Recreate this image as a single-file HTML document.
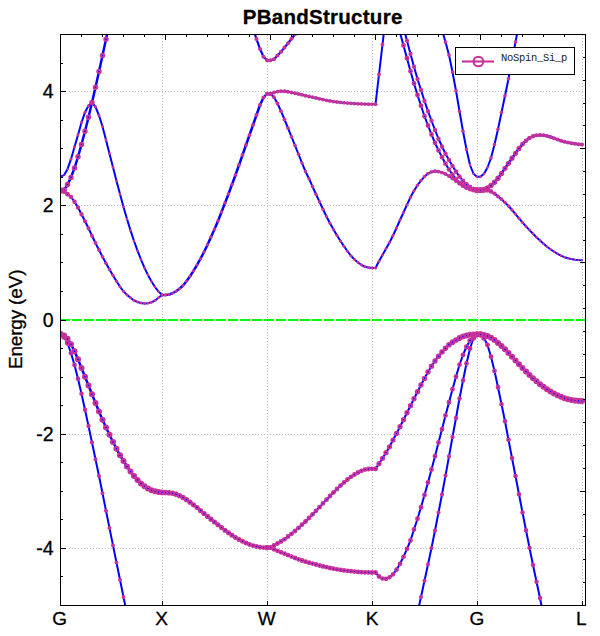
<!DOCTYPE html>
<html><head><meta charset="utf-8"><title>PBandStructure</title>
<style>
html,body{margin:0;padding:0;background:#fff;}
body{width:600px;height:636px;overflow:hidden;font-family:"Liberation Sans",sans-serif;}
svg{display:block;}
text{font-family:"Liberation Sans",sans-serif;fill:#000;stroke:#000;stroke-width:0.3px;}
</style></head><body>
<svg width="600" height="636" viewBox="0 0 600 636">
<rect width="600" height="636" fill="#fff"/>
<defs><clipPath id="cp"><rect x="60.5" y="34.5" width="525.0" height="571.0"/></clipPath></defs>
<g stroke="#bdbdbd" stroke-width="1" stroke-dasharray="1 2" shape-rendering="crispEdges" fill="none">
<line x1="162.5" y1="35" x2="162.5" y2="601"/>
<line x1="267.5" y1="35" x2="267.5" y2="601"/>
<line x1="372.5" y1="35" x2="372.5" y2="601"/>
<line x1="477.5" y1="35" x2="477.5" y2="601"/>
<line x1="582.5" y1="35" x2="582.5" y2="601"/>
<line x1="69" y1="91.5" x2="583" y2="91.5"/>
<line x1="69" y1="205.5" x2="583" y2="205.5"/>
<line x1="69" y1="434.5" x2="583" y2="434.5"/>
<line x1="69" y1="548.5" x2="583" y2="548.5"/>
</g>
<line x1="60" y1="320" x2="585.5" y2="320" stroke="#00ff00" stroke-width="2" stroke-dasharray="10 2"/>
<g clip-path="url(#cp)">
<g fill="none" stroke="#0000ff" stroke-width="2.0" stroke-linejoin="round" stroke-linecap="round">
<polyline points="60.50,190.50 64.00,191.30 67.50,194.25 71.00,197.00 74.50,201.75 78.00,207.50 81.50,214.25 85.00,221.25 88.50,228.25 92.00,235.75 95.50,243.00 99.00,250.00 102.50,256.75 106.00,263.25 109.50,269.50 113.00,275.50 116.50,281.25 120.00,286.75 123.50,291.34 127.00,294.89 130.50,297.75 134.00,300.44 137.50,302.03 141.00,302.98 144.50,303.50 148.00,303.15 151.50,302.29 155.00,300.50 158.50,297.75 162.00,295.00 165.50,295.00"/>
<polyline points="60.50,176.70 64.00,175.20 67.50,169.20 71.00,159.20 74.50,147.00 78.00,135.00 81.50,122.60 85.00,112.20 88.50,105.70 92.00,102.50 95.50,106.90 99.00,115.50 102.50,126.50 106.00,139.90 109.50,153.70 113.00,167.30 116.50,180.90 120.00,194.10 123.50,206.90 127.00,219.00 130.50,230.40 134.00,241.00 137.50,250.70 141.00,259.50 144.50,267.90 148.00,275.10 151.50,281.50 155.00,287.00 158.50,291.60 162.00,294.80 165.50,295.00"/>
<polyline stroke-width="2.5" points="60.50,190.50 64.00,190.00 67.50,184.60 71.00,177.40 74.50,168.00 78.00,156.80 81.50,144.50 85.00,131.30 88.50,117.30 92.00,102.50 95.50,87.25 99.00,71.50 102.50,55.50 106.00,39.25 109.50,23.00"/>
<polyline stroke-width="2.5" points="162.00,295.00 165.50,295.00 169.00,294.49 172.50,293.29 176.00,291.25 179.50,288.72 183.00,285.50 186.50,281.26 190.00,276.25 193.50,270.86 197.00,265.00 200.50,258.73 204.00,252.00 207.50,244.67 211.00,237.00 214.50,229.25 218.00,221.00 221.50,212.00 225.00,203.00 228.50,194.00 232.00,184.50 235.50,175.00 239.00,165.00 242.50,155.00 246.00,145.00 249.50,135.00 253.00,125.00 256.50,115.00 260.00,105.00 263.50,97.50 267.00,93.90 270.50,93.90"/>
<polyline stroke-width="2.2" points="249.50,14.00 253.00,28.50 256.50,39.00 260.00,49.00 263.50,56.80 267.00,60.30 270.50,60.30 274.00,59.20 277.50,55.50 281.00,51.80 284.50,47.60 288.00,43.20 291.50,38.80 295.00,34.30 298.50,29.80"/>
<polyline points="267.00,93.80 270.50,93.80 274.00,92.50 277.50,91.60 281.00,91.25 284.50,91.25 288.00,91.75 291.50,92.50 295.00,93.25 298.50,94.00 302.00,94.75 305.50,95.75 309.00,96.50 312.50,97.20 316.00,97.98 319.50,98.80 323.00,99.59 326.50,100.29 330.00,100.93 333.50,101.51 337.00,102.00 340.50,102.40 344.00,102.75 347.50,103.06 351.00,103.32 354.50,103.57 358.00,103.79 361.50,103.96 365.00,104.09 368.50,104.20 372.00,104.25 375.50,104.25"/>
<polyline points="375.50,104.25 379.00,74.50 382.50,44.50 386.00,14.50"/>
<polyline points="267.00,93.90 270.50,93.90 274.00,97.20 277.50,103.50 281.00,111.20 284.50,119.50 288.00,128.00 291.50,136.75 295.00,145.50 298.50,154.25 302.00,163.00 305.50,171.50 309.00,178.70 312.50,186.50 316.00,194.25 319.50,201.75 323.00,209.25 326.50,216.50 330.00,223.25 333.50,229.50 337.00,235.50 340.50,241.00 344.00,246.25 347.50,251.25 351.00,255.75 354.50,259.50 358.00,262.50 361.50,265.00 365.00,266.75 368.50,267.50 372.00,268.00 375.50,268.00"/>
<polyline points="372.00,268.00 375.50,268.00 379.00,261.25 382.50,255.00 386.00,248.75 389.50,242.50 393.00,235.50 396.50,228.00 400.00,220.00 403.50,212.50 407.00,204.70 410.50,197.30 414.00,190.80 417.50,185.20 421.00,180.60 424.50,176.60 428.00,173.60 431.50,171.80 435.00,171.20 438.50,171.60 442.00,172.60 445.50,174.00 449.00,176.00 452.50,178.40 456.00,181.00 459.50,183.40 463.00,185.60 466.50,187.40 470.00,188.80 473.50,189.80 477.00,190.20 480.50,190.20"/>
<polyline points="396.50,19.50 400.00,32.50 403.50,45.50 407.00,58.25 410.50,71.25 414.00,83.50 417.50,95.00 421.00,105.75 424.50,116.25 428.00,125.50 431.50,134.50 435.00,142.80 438.50,150.40 442.00,157.20 445.50,163.70 449.00,169.50 452.50,174.60 456.00,179.20 459.50,182.80 463.00,185.60 466.50,187.60 470.00,188.90 473.50,189.80 477.00,190.20 480.50,190.20"/>
<polyline points="400.00,14.00 403.50,27.50 407.00,40.75 410.50,54.00 414.00,66.75 417.50,79.00 421.00,90.00 424.50,101.00 428.00,111.25 431.50,120.75 435.00,130.00 438.50,138.75 442.00,146.50 445.50,153.70 449.00,160.00 452.50,166.00 456.00,171.60 459.50,176.60 463.00,181.00 466.50,184.40 470.00,187.20 473.50,189.20 477.00,190.20 480.50,190.20"/>
<polyline points="438.50,14.00 442.00,30.00 445.50,42.00 449.00,55.00 452.50,72.00 456.00,90.75 459.50,111.25 463.00,131.25 466.50,149.50 470.00,165.00 473.50,173.75 477.00,176.75 480.50,176.75 484.00,173.75 487.50,167.50 491.00,158.00 494.50,144.50 498.00,129.25 501.50,112.50 505.00,95.75 508.50,78.75 512.00,60.50 515.50,42.00 519.00,24.00 522.50,6.00"/>
<polyline stroke-width="2.5" points="477.00,190.20 480.50,190.20 484.00,189.60 487.50,188.00 491.00,185.60 494.50,182.30 498.00,178.30 501.50,173.60 505.00,168.30 508.50,163.30 512.00,158.20 515.50,153.20 519.00,148.40 522.50,144.25 526.00,140.75 529.50,138.00 533.00,136.25 536.50,135.25 540.00,135.00 543.50,135.25 547.00,136.00 550.50,137.00 554.00,138.25 557.50,139.50 561.00,140.75 564.50,141.75 568.00,142.50 571.50,143.25 575.00,143.75 578.50,144.25 582.00,144.50"/>
<polyline points="477.00,190.20 480.50,190.20 484.00,190.20 487.50,190.30 491.00,191.40 494.50,193.60 498.00,196.40 501.50,199.20 505.00,202.60 508.50,206.00 512.00,210.00 515.50,214.10 519.00,218.40 522.50,222.50 526.00,226.40 529.50,230.10 533.00,233.80 536.50,237.30 540.00,240.60 543.50,243.70 547.00,246.70 550.50,249.30 554.00,251.70 557.50,253.80 561.00,255.60 564.50,257.20 568.00,258.30 571.50,259.10 575.00,259.70 578.50,260.10 582.00,260.20"/>
<polyline stroke-width="2.5" points="60.50,334.00 64.00,335.50 67.50,338.75 71.00,344.25 74.50,351.25 78.00,359.25 81.50,368.00 85.00,376.75 88.50,385.50 92.00,394.25 95.50,403.00 99.00,411.50 102.50,419.75 106.00,427.50 109.50,434.75 113.00,442.00 116.50,448.75 120.00,455.25 123.50,461.00 127.00,466.50 130.50,471.50 134.00,476.00 137.50,480.00 141.00,483.50 144.50,486.25 148.00,488.50 151.50,490.30 155.00,491.30 158.50,492.00 162.00,492.40 165.50,492.50 169.00,492.70 172.50,493.30 176.00,494.30 179.50,495.70 183.00,497.50 186.50,499.70 190.00,502.20 193.50,504.80 197.00,507.50 200.50,510.50 204.00,513.50 207.50,516.40 211.00,519.20 214.50,522.00 218.00,524.80 221.50,527.50 225.00,530.20 228.50,532.80 232.00,535.20 235.50,537.50 239.00,539.50 242.50,541.30 246.00,543.00 249.50,544.50 253.00,545.60 256.50,546.50 260.00,547.20 263.50,547.60 267.00,547.60 270.50,547.60"/>
<polyline points="60.50,334.00 64.00,337.00 67.50,343.00 71.00,353.00 74.50,365.00 78.00,378.75 81.50,393.75 85.00,409.75 88.50,426.00 92.00,442.50 95.50,459.25 99.00,476.00 102.50,493.30 106.00,510.70 109.50,528.10 113.00,545.40 116.50,562.60 120.00,579.80 123.50,597.00 127.00,614.20"/>
<polyline points="267.00,547.60 270.50,547.60 274.00,545.50 277.50,543.50 281.00,541.50 284.50,539.30 288.00,536.50 291.50,533.80 295.00,531.00 298.50,527.90 302.00,524.70 305.50,521.50 309.00,518.00 312.50,514.40 316.00,510.80 319.50,507.20 323.00,503.30 326.50,499.70 330.00,496.00 333.50,492.40 337.00,489.00 340.50,485.60 344.00,482.40 347.50,479.50 351.00,476.80 354.50,474.50 358.00,472.50 361.50,470.80 365.00,469.60 368.50,469.00 372.00,468.80 375.50,468.80 379.00,463.70 382.50,458.30 386.00,452.70 389.50,446.80 393.00,440.00 396.50,433.50 400.00,426.75 403.50,419.75 407.00,412.75 410.50,405.75 414.00,398.75 417.50,391.75 421.00,385.00 424.50,378.40 428.00,372.00 431.50,366.20 435.00,361.00 438.50,356.30 442.00,352.00 445.50,348.20 449.00,344.80 452.50,342.20 456.00,340.00 459.50,338.00 463.00,336.50 466.50,335.50 470.00,334.80 473.50,334.50 477.00,334.30 480.50,334.30 484.00,335.00 487.50,336.00 491.00,337.70 494.50,340.00 498.00,343.00 501.50,346.00 505.00,349.30 508.50,353.00 512.00,356.80 515.50,360.50 519.00,364.20 522.50,368.00 526.00,371.50 529.50,375.00 533.00,378.20 536.50,381.20 540.00,384.20 543.50,386.80 547.00,389.30 550.50,391.50 554.00,393.50 557.50,395.20 561.00,396.80 564.50,398.20 568.00,399.20 571.50,400.00 575.00,400.60 578.50,400.90 582.00,401.00"/>
<polyline points="267.00,547.60 270.50,547.60 274.00,549.30 277.50,550.80 281.00,552.30 284.50,553.70 288.00,555.20 291.50,556.60 295.00,558.00 298.50,559.30 302.00,560.50 305.50,561.70 309.00,562.70 312.50,563.60 316.00,564.50 319.50,565.50 323.00,566.40 326.50,567.20 330.00,568.00 333.50,568.70 337.00,569.30 340.50,569.90 344.00,570.40 347.50,570.80 351.00,571.20 354.50,571.60 358.00,571.90 361.50,572.10 365.00,572.30 368.50,572.40 372.00,572.50 375.50,572.50 379.00,576.50 382.50,578.50 386.00,578.80 389.50,577.30 393.00,574.30 396.50,569.70 400.00,563.80 403.50,556.80 407.00,548.80 410.50,540.50 414.00,529.50 417.50,518.75 421.00,507.25 424.50,495.00 428.00,482.50 431.50,469.50 435.00,456.25 438.50,442.50 442.00,429.25 445.50,415.50 449.00,402.25 452.50,389.25 456.00,376.75 459.50,364.75 463.00,355.00 466.50,346.75 470.00,340.50 473.50,336.00 477.00,334.50 480.50,334.50"/>
<polyline points="414.00,630.00 417.50,613.00 421.00,597.00 424.50,580.75 428.00,564.50 431.50,548.00 435.00,530.50 438.50,512.50 442.00,494.50 445.50,475.60 449.00,456.40 452.50,437.00 456.00,418.00 459.50,398.50 463.00,380.50 466.50,363.50 470.00,348.50 473.50,338.00 477.00,334.50 480.50,334.50"/>
<polyline points="477.00,334.50 480.50,334.50 484.00,338.00 487.50,345.00 491.00,356.75 494.50,371.00 498.00,387.25 501.50,404.25 505.00,421.25 508.50,439.75 512.00,458.00 515.50,476.00 519.00,494.25 522.50,512.50 526.00,530.29 529.50,547.79 533.00,565.00 536.50,581.75 540.00,598.00 543.50,616.00"/>
</g>
<g fill="none" stroke="#C8329A" stroke-width="2.1">
<circle cx="60.50" cy="190.50" r="1.88" stroke-width="2.15"/>
<circle cx="64.00" cy="191.30" r="1.65" stroke-width="1.90"/>
<circle cx="67.50" cy="194.25" r="1.50" stroke-width="1.90"/>
<circle cx="71.00" cy="197.00" r="1.35" stroke-width="1.90"/>
<circle cx="74.50" cy="201.75" r="1.31" stroke-width="1.90"/>
<circle cx="78.00" cy="207.50" r="1.26" stroke-width="1.90"/>
<circle cx="81.50" cy="214.25" r="1.22" stroke-width="1.90"/>
<circle cx="85.00" cy="221.25" r="1.17" stroke-width="1.90"/>
<circle cx="88.50" cy="228.25" r="1.11" stroke-width="1.90"/>
<circle cx="92.00" cy="235.75" r="1.06" stroke-width="1.90"/>
<circle cx="95.50" cy="243.00" r="1.95" fill="#C8329A" stroke="none"/>
<circle cx="99.00" cy="250.00" r="1.89" fill="#C8329A" stroke="none"/>
<circle cx="102.50" cy="256.75" r="1.83" fill="#C8329A" stroke="none"/>
<circle cx="106.00" cy="263.25" r="1.77" fill="#C8329A" stroke="none"/>
<circle cx="109.50" cy="269.50" r="1.72" fill="#C8329A" stroke="none"/>
<circle cx="113.00" cy="275.50" r="1.66" fill="#C8329A" stroke="none"/>
<circle cx="116.50" cy="281.25" r="1.61" fill="#C8329A" stroke="none"/>
<circle cx="120.00" cy="286.75" r="1.55" fill="#C8329A" stroke="none"/>
<circle cx="123.50" cy="291.34" r="1.50" fill="#C8329A" stroke="none"/>
<circle cx="127.00" cy="294.89" r="1.47" fill="#C8329A" stroke="none"/>
<circle cx="130.50" cy="297.75" r="1.45" fill="#C8329A" stroke="none"/>
<circle cx="134.00" cy="300.44" r="1.44" fill="#C8329A" stroke="none"/>
<circle cx="137.50" cy="302.03" r="1.42" fill="#C8329A" stroke="none"/>
<circle cx="141.00" cy="302.98" r="1.41" fill="#C8329A" stroke="none"/>
<circle cx="144.50" cy="303.50" r="1.39" fill="#C8329A" stroke="none"/>
<circle cx="148.00" cy="303.15" r="1.37" fill="#C8329A" stroke="none"/>
<circle cx="151.50" cy="302.29" r="1.36" fill="#C8329A" stroke="none"/>
<circle cx="155.00" cy="300.50" r="1.34" fill="#C8329A" stroke="none"/>
<circle cx="158.50" cy="297.75" r="1.33" fill="#C8329A" stroke="none"/>
<circle cx="162.00" cy="295.00" r="1.31" fill="#C8329A" stroke="none"/>
<circle cx="165.50" cy="295.00" r="1.30" fill="#C8329A" stroke="none"/>
<circle cx="60.50" cy="176.70" r="0.71" fill="#C8329A" stroke="none"/>
<circle cx="64.00" cy="175.20" r="0.83" fill="#C8329A" stroke="none"/>
<circle cx="67.50" cy="169.20" r="0.94" fill="#C8329A" stroke="none"/>
<circle cx="71.00" cy="159.20" r="1.42" fill="#C8329A" stroke="none"/>
<circle cx="74.50" cy="147.00" r="1.44" fill="#C8329A" stroke="none"/>
<circle cx="78.00" cy="135.00" r="1.46" fill="#C8329A" stroke="none"/>
<circle cx="81.50" cy="122.60" r="1.49" fill="#C8329A" stroke="none"/>
<circle cx="85.00" cy="112.20" r="1.51" fill="#C8329A" stroke="none"/>
<circle cx="88.50" cy="105.70" r="1.57" fill="#C8329A" stroke="none"/>
<circle cx="92.00" cy="102.50" r="1.76" fill="#C8329A" stroke="none"/>
<circle cx="95.50" cy="106.90" r="1.53" fill="#C8329A" stroke="none"/>
<circle cx="99.00" cy="115.50" r="1.49" fill="#C8329A" stroke="none"/>
<circle cx="102.50" cy="126.50" r="1.45" fill="#C8329A" stroke="none"/>
<circle cx="106.00" cy="139.90" r="1.41" fill="#C8329A" stroke="none"/>
<circle cx="109.50" cy="153.70" r="1.36" fill="#C8329A" stroke="none"/>
<circle cx="113.00" cy="167.30" r="1.35" fill="#C8329A" stroke="none"/>
<circle cx="116.50" cy="180.90" r="1.34" fill="#C8329A" stroke="none"/>
<circle cx="120.00" cy="194.10" r="1.33" fill="#C8329A" stroke="none"/>
<circle cx="123.50" cy="206.90" r="1.31" fill="#C8329A" stroke="none"/>
<circle cx="127.00" cy="219.00" r="1.30" fill="#C8329A" stroke="none"/>
<circle cx="130.50" cy="230.40" r="1.29" fill="#C8329A" stroke="none"/>
<circle cx="134.00" cy="241.00" r="1.28" fill="#C8329A" stroke="none"/>
<circle cx="137.50" cy="250.70" r="1.27" fill="#C8329A" stroke="none"/>
<circle cx="141.00" cy="259.50" r="1.26" fill="#C8329A" stroke="none"/>
<circle cx="144.50" cy="267.90" r="1.25" fill="#C8329A" stroke="none"/>
<circle cx="148.00" cy="275.10" r="1.24" fill="#C8329A" stroke="none"/>
<circle cx="151.50" cy="281.50" r="1.22" fill="#C8329A" stroke="none"/>
<circle cx="155.00" cy="287.00" r="1.21" fill="#C8329A" stroke="none"/>
<circle cx="158.50" cy="291.60" r="1.20" fill="#C8329A" stroke="none"/>
<circle cx="162.00" cy="294.80" r="1.19" fill="#C8329A" stroke="none"/>
<circle cx="165.50" cy="295.00" r="1.18" fill="#C8329A" stroke="none"/>
<circle cx="60.50" cy="190.50" r="1.88" stroke-width="2.15"/>
<circle cx="64.00" cy="190.00" r="1.83" stroke-width="2.06"/>
<circle cx="67.50" cy="184.60" r="1.79" stroke-width="1.98"/>
<circle cx="71.00" cy="177.40" r="1.76" stroke-width="1.91"/>
<circle cx="74.50" cy="168.00" r="1.76" stroke-width="1.91"/>
<circle cx="78.00" cy="156.80" r="1.76" stroke-width="1.91"/>
<circle cx="81.50" cy="144.50" r="1.76" stroke-width="1.91"/>
<circle cx="85.00" cy="131.30" r="1.76" stroke-width="1.91"/>
<circle cx="88.50" cy="117.30" r="1.76" stroke-width="1.91"/>
<circle cx="92.00" cy="102.50" r="1.76" stroke-width="1.91"/>
<circle cx="95.50" cy="87.25" r="1.76" stroke-width="1.91"/>
<circle cx="99.00" cy="71.50" r="1.76" stroke-width="1.91"/>
<circle cx="102.50" cy="55.50" r="1.76" stroke-width="1.91"/>
<circle cx="106.00" cy="39.25" r="1.76" stroke-width="1.91"/>
<circle cx="109.50" cy="23.00" r="1.76" stroke-width="1.91"/>
<circle cx="162.00" cy="295.00" r="1.36" fill="#C8329A" stroke="none"/>
<circle cx="165.50" cy="295.00" r="1.38" fill="#C8329A" stroke="none"/>
<circle cx="169.00" cy="294.49" r="1.40" fill="#C8329A" stroke="none"/>
<circle cx="172.50" cy="293.29" r="1.42" fill="#C8329A" stroke="none"/>
<circle cx="176.00" cy="291.25" r="1.44" fill="#C8329A" stroke="none"/>
<circle cx="179.50" cy="288.72" r="1.47" fill="#C8329A" stroke="none"/>
<circle cx="183.00" cy="285.50" r="1.49" fill="#C8329A" stroke="none"/>
<circle cx="186.50" cy="281.26" r="1.51" fill="#C8329A" stroke="none"/>
<circle cx="190.00" cy="276.25" r="1.53" fill="#C8329A" stroke="none"/>
<circle cx="193.50" cy="270.86" r="1.55" fill="#C8329A" stroke="none"/>
<circle cx="197.00" cy="265.00" r="1.57" fill="#C8329A" stroke="none"/>
<circle cx="200.50" cy="258.73" r="1.60" fill="#C8329A" stroke="none"/>
<circle cx="204.00" cy="252.00" r="1.62" fill="#C8329A" stroke="none"/>
<circle cx="207.50" cy="244.67" r="1.65" fill="#C8329A" stroke="none"/>
<circle cx="211.00" cy="237.00" r="1.67" fill="#C8329A" stroke="none"/>
<circle cx="214.50" cy="229.25" r="1.70" fill="#C8329A" stroke="none"/>
<circle cx="218.00" cy="221.00" r="1.73" fill="#C8329A" stroke="none"/>
<circle cx="221.50" cy="212.00" r="1.75" fill="#C8329A" stroke="none"/>
<circle cx="225.00" cy="203.00" r="1.78" fill="#C8329A" stroke="none"/>
<circle cx="228.50" cy="194.00" r="1.80" fill="#C8329A" stroke="none"/>
<circle cx="232.00" cy="184.50" r="1.83" fill="#C8329A" stroke="none"/>
<circle cx="235.50" cy="175.00" r="1.85" fill="#C8329A" stroke="none"/>
<circle cx="239.00" cy="165.00" r="1.88" fill="#C8329A" stroke="none"/>
<circle cx="242.50" cy="155.00" r="1.91" fill="#C8329A" stroke="none"/>
<circle cx="246.00" cy="145.00" r="1.93" fill="#C8329A" stroke="none"/>
<circle cx="249.50" cy="135.00" r="1.01" stroke-width="1.90"/>
<circle cx="253.00" cy="125.00" r="1.04" stroke-width="1.90"/>
<circle cx="256.50" cy="115.00" r="1.07" stroke-width="1.90"/>
<circle cx="260.00" cy="105.00" r="1.09" stroke-width="1.90"/>
<circle cx="263.50" cy="97.50" r="1.12" stroke-width="1.90"/>
<circle cx="267.00" cy="93.90" r="1.15" stroke-width="1.90"/>
<circle cx="270.50" cy="93.90" r="1.17" stroke-width="1.90"/>
<circle cx="253.00" cy="28.50" r="1.11" stroke-width="1.90"/>
<circle cx="256.50" cy="39.00" r="1.11" stroke-width="1.90"/>
<circle cx="260.00" cy="49.00" r="1.11" stroke-width="1.90"/>
<circle cx="263.50" cy="56.80" r="1.11" stroke-width="1.90"/>
<circle cx="267.00" cy="60.30" r="1.11" stroke-width="1.90"/>
<circle cx="270.50" cy="60.30" r="1.11" stroke-width="1.90"/>
<circle cx="274.00" cy="59.20" r="1.11" stroke-width="1.90"/>
<circle cx="277.50" cy="55.50" r="1.11" stroke-width="1.90"/>
<circle cx="281.00" cy="51.80" r="1.11" stroke-width="1.90"/>
<circle cx="284.50" cy="47.60" r="1.11" stroke-width="1.90"/>
<circle cx="288.00" cy="43.20" r="1.11" stroke-width="1.90"/>
<circle cx="291.50" cy="38.80" r="1.11" stroke-width="1.90"/>
<circle cx="295.00" cy="34.30" r="1.11" stroke-width="1.90"/>
<circle cx="298.50" cy="29.80" r="1.11" stroke-width="1.90"/>
<circle cx="267.00" cy="93.80" r="1.06" stroke-width="1.90"/>
<circle cx="270.50" cy="93.80" r="1.04" stroke-width="1.90"/>
<circle cx="274.00" cy="92.50" r="1.02" stroke-width="1.90"/>
<circle cx="277.50" cy="91.60" r="1.01" stroke-width="1.90"/>
<circle cx="281.00" cy="91.25" r="1.95" fill="#C8329A" stroke="none"/>
<circle cx="284.50" cy="91.25" r="1.94" fill="#C8329A" stroke="none"/>
<circle cx="288.00" cy="91.75" r="1.94" fill="#C8329A" stroke="none"/>
<circle cx="291.50" cy="92.50" r="1.93" fill="#C8329A" stroke="none"/>
<circle cx="295.00" cy="93.25" r="1.93" fill="#C8329A" stroke="none"/>
<circle cx="298.50" cy="94.00" r="1.92" fill="#C8329A" stroke="none"/>
<circle cx="302.00" cy="94.75" r="1.92" fill="#C8329A" stroke="none"/>
<circle cx="305.50" cy="95.75" r="1.92" fill="#C8329A" stroke="none"/>
<circle cx="309.00" cy="96.50" r="1.91" fill="#C8329A" stroke="none"/>
<circle cx="312.50" cy="97.20" r="1.91" fill="#C8329A" stroke="none"/>
<circle cx="316.00" cy="97.98" r="1.90" fill="#C8329A" stroke="none"/>
<circle cx="319.50" cy="98.80" r="1.90" fill="#C8329A" stroke="none"/>
<circle cx="323.00" cy="99.59" r="1.89" fill="#C8329A" stroke="none"/>
<circle cx="326.50" cy="100.29" r="1.89" fill="#C8329A" stroke="none"/>
<circle cx="330.00" cy="100.93" r="1.89" fill="#C8329A" stroke="none"/>
<circle cx="333.50" cy="101.51" r="1.88" fill="#C8329A" stroke="none"/>
<circle cx="337.00" cy="102.00" r="1.88" fill="#C8329A" stroke="none"/>
<circle cx="340.50" cy="102.40" r="1.87" fill="#C8329A" stroke="none"/>
<circle cx="344.00" cy="102.75" r="1.87" fill="#C8329A" stroke="none"/>
<circle cx="347.50" cy="103.06" r="1.86" fill="#C8329A" stroke="none"/>
<circle cx="351.00" cy="103.32" r="1.86" fill="#C8329A" stroke="none"/>
<circle cx="354.50" cy="103.57" r="1.85" fill="#C8329A" stroke="none"/>
<circle cx="358.00" cy="103.79" r="1.85" fill="#C8329A" stroke="none"/>
<circle cx="361.50" cy="103.96" r="1.85" fill="#C8329A" stroke="none"/>
<circle cx="365.00" cy="104.09" r="1.84" fill="#C8329A" stroke="none"/>
<circle cx="368.50" cy="104.20" r="1.84" fill="#C8329A" stroke="none"/>
<circle cx="372.00" cy="104.25" r="1.83" fill="#C8329A" stroke="none"/>
<circle cx="375.50" cy="104.25" r="1.83" fill="#C8329A" stroke="none"/>
<circle cx="375.50" cy="104.25" r="1.83" fill="#C8329A" stroke="none"/>
<circle cx="379.00" cy="74.50" r="1.89" fill="#C8329A" stroke="none"/>
<circle cx="382.50" cy="44.50" r="1.89" fill="#C8329A" stroke="none"/>
<circle cx="267.00" cy="93.90" r="1.06" stroke-width="1.90"/>
<circle cx="270.50" cy="93.90" r="1.03" stroke-width="1.90"/>
<circle cx="274.00" cy="97.20" r="1.01" stroke-width="1.90"/>
<circle cx="277.50" cy="103.50" r="1.93" fill="#C8329A" stroke="none"/>
<circle cx="281.00" cy="111.20" r="1.91" fill="#C8329A" stroke="none"/>
<circle cx="284.50" cy="119.50" r="1.88" fill="#C8329A" stroke="none"/>
<circle cx="288.00" cy="128.00" r="1.86" fill="#C8329A" stroke="none"/>
<circle cx="291.50" cy="136.75" r="1.83" fill="#C8329A" stroke="none"/>
<circle cx="295.00" cy="145.50" r="1.81" fill="#C8329A" stroke="none"/>
<circle cx="298.50" cy="154.25" r="1.78" fill="#C8329A" stroke="none"/>
<circle cx="302.00" cy="163.00" r="1.76" fill="#C8329A" stroke="none"/>
<circle cx="305.50" cy="171.50" r="1.74" fill="#C8329A" stroke="none"/>
<circle cx="309.00" cy="178.70" r="1.72" fill="#C8329A" stroke="none"/>
<circle cx="312.50" cy="186.50" r="1.70" fill="#C8329A" stroke="none"/>
<circle cx="316.00" cy="194.25" r="1.68" fill="#C8329A" stroke="none"/>
<circle cx="319.50" cy="201.75" r="1.65" fill="#C8329A" stroke="none"/>
<circle cx="323.00" cy="209.25" r="1.63" fill="#C8329A" stroke="none"/>
<circle cx="326.50" cy="216.50" r="1.61" fill="#C8329A" stroke="none"/>
<circle cx="330.00" cy="223.25" r="1.59" fill="#C8329A" stroke="none"/>
<circle cx="333.50" cy="229.50" r="1.57" fill="#C8329A" stroke="none"/>
<circle cx="337.00" cy="235.50" r="1.55" fill="#C8329A" stroke="none"/>
<circle cx="340.50" cy="241.00" r="1.53" fill="#C8329A" stroke="none"/>
<circle cx="344.00" cy="246.25" r="1.52" fill="#C8329A" stroke="none"/>
<circle cx="347.50" cy="251.25" r="1.51" fill="#C8329A" stroke="none"/>
<circle cx="351.00" cy="255.75" r="1.50" fill="#C8329A" stroke="none"/>
<circle cx="354.50" cy="259.50" r="1.49" fill="#C8329A" stroke="none"/>
<circle cx="358.00" cy="262.50" r="1.47" fill="#C8329A" stroke="none"/>
<circle cx="361.50" cy="265.00" r="1.46" fill="#C8329A" stroke="none"/>
<circle cx="365.00" cy="266.75" r="1.45" fill="#C8329A" stroke="none"/>
<circle cx="368.50" cy="267.50" r="1.44" fill="#C8329A" stroke="none"/>
<circle cx="372.00" cy="268.00" r="1.43" fill="#C8329A" stroke="none"/>
<circle cx="375.50" cy="268.00" r="1.42" fill="#C8329A" stroke="none"/>
<circle cx="372.00" cy="268.00" r="1.36" fill="#C8329A" stroke="none"/>
<circle cx="375.50" cy="268.00" r="1.37" fill="#C8329A" stroke="none"/>
<circle cx="379.00" cy="261.25" r="1.39" fill="#C8329A" stroke="none"/>
<circle cx="382.50" cy="255.00" r="1.40" fill="#C8329A" stroke="none"/>
<circle cx="386.00" cy="248.75" r="1.42" fill="#C8329A" stroke="none"/>
<circle cx="389.50" cy="242.50" r="1.43" fill="#C8329A" stroke="none"/>
<circle cx="393.00" cy="235.50" r="1.45" fill="#C8329A" stroke="none"/>
<circle cx="396.50" cy="228.00" r="1.46" fill="#C8329A" stroke="none"/>
<circle cx="400.00" cy="220.00" r="1.47" fill="#C8329A" stroke="none"/>
<circle cx="403.50" cy="212.50" r="1.52" fill="#C8329A" stroke="none"/>
<circle cx="407.00" cy="204.70" r="1.56" fill="#C8329A" stroke="none"/>
<circle cx="410.50" cy="197.30" r="1.61" fill="#C8329A" stroke="none"/>
<circle cx="414.00" cy="190.80" r="1.65" fill="#C8329A" stroke="none"/>
<circle cx="417.50" cy="185.20" r="1.69" fill="#C8329A" stroke="none"/>
<circle cx="421.00" cy="180.60" r="1.73" fill="#C8329A" stroke="none"/>
<circle cx="424.50" cy="176.60" r="1.77" fill="#C8329A" stroke="none"/>
<circle cx="428.00" cy="173.60" r="1.81" fill="#C8329A" stroke="none"/>
<circle cx="431.50" cy="171.80" r="1.85" fill="#C8329A" stroke="none"/>
<circle cx="435.00" cy="171.20" r="1.89" fill="#C8329A" stroke="none"/>
<circle cx="438.50" cy="171.60" r="1.93" fill="#C8329A" stroke="none"/>
<circle cx="442.00" cy="172.60" r="1.02" stroke-width="1.90"/>
<circle cx="445.50" cy="174.00" r="1.06" stroke-width="1.90"/>
<circle cx="449.00" cy="176.00" r="1.10" stroke-width="1.90"/>
<circle cx="452.50" cy="178.40" r="1.13" stroke-width="1.90"/>
<circle cx="456.00" cy="181.00" r="1.17" stroke-width="1.90"/>
<circle cx="459.50" cy="183.40" r="1.23" stroke-width="1.90"/>
<circle cx="463.00" cy="185.60" r="1.29" stroke-width="1.90"/>
<circle cx="466.50" cy="187.40" r="1.35" stroke-width="1.90"/>
<circle cx="470.00" cy="188.80" r="1.41" stroke-width="1.90"/>
<circle cx="473.50" cy="189.80" r="1.53" stroke-width="1.90"/>
<circle cx="477.00" cy="190.20" r="1.65" stroke-width="1.90"/>
<circle cx="480.50" cy="190.20" r="1.76" stroke-width="1.91"/>
<circle cx="400.00" cy="32.50" r="1.52" stroke-width="1.90"/>
<circle cx="403.50" cy="45.50" r="1.51" stroke-width="1.90"/>
<circle cx="407.00" cy="58.25" r="1.50" stroke-width="1.90"/>
<circle cx="410.50" cy="71.25" r="1.50" stroke-width="1.90"/>
<circle cx="414.00" cy="83.50" r="1.49" stroke-width="1.90"/>
<circle cx="417.50" cy="95.00" r="1.48" stroke-width="1.90"/>
<circle cx="421.00" cy="105.75" r="1.47" stroke-width="1.90"/>
<circle cx="424.50" cy="116.25" r="1.47" stroke-width="1.90"/>
<circle cx="428.00" cy="125.50" r="1.46" stroke-width="1.90"/>
<circle cx="431.50" cy="134.50" r="1.45" stroke-width="1.90"/>
<circle cx="435.00" cy="142.80" r="1.44" stroke-width="1.90"/>
<circle cx="438.50" cy="150.40" r="1.44" stroke-width="1.90"/>
<circle cx="442.00" cy="157.20" r="1.43" stroke-width="1.90"/>
<circle cx="445.50" cy="163.70" r="1.42" stroke-width="1.90"/>
<circle cx="449.00" cy="169.50" r="1.41" stroke-width="1.90"/>
<circle cx="452.50" cy="174.60" r="1.42" stroke-width="1.90"/>
<circle cx="456.00" cy="179.20" r="1.45" stroke-width="1.90"/>
<circle cx="459.50" cy="182.80" r="1.47" stroke-width="1.90"/>
<circle cx="463.00" cy="185.60" r="1.49" stroke-width="1.90"/>
<circle cx="466.50" cy="187.60" r="1.51" stroke-width="1.90"/>
<circle cx="470.00" cy="188.90" r="1.53" stroke-width="1.90"/>
<circle cx="473.50" cy="189.80" r="1.61" stroke-width="1.90"/>
<circle cx="477.00" cy="190.20" r="1.69" stroke-width="1.90"/>
<circle cx="480.50" cy="190.20" r="1.76" stroke-width="1.91"/>
<circle cx="403.50" cy="27.50" r="1.19" stroke-width="1.90"/>
<circle cx="407.00" cy="40.75" r="1.19" stroke-width="1.90"/>
<circle cx="410.50" cy="54.00" r="1.20" stroke-width="1.90"/>
<circle cx="414.00" cy="66.75" r="1.21" stroke-width="1.90"/>
<circle cx="417.50" cy="79.00" r="1.21" stroke-width="1.90"/>
<circle cx="421.00" cy="90.00" r="1.22" stroke-width="1.90"/>
<circle cx="424.50" cy="101.00" r="1.22" stroke-width="1.90"/>
<circle cx="428.00" cy="111.25" r="1.23" stroke-width="1.90"/>
<circle cx="431.50" cy="120.75" r="1.24" stroke-width="1.90"/>
<circle cx="435.00" cy="130.00" r="1.25" stroke-width="1.90"/>
<circle cx="438.50" cy="138.75" r="1.26" stroke-width="1.90"/>
<circle cx="442.00" cy="146.50" r="1.27" stroke-width="1.90"/>
<circle cx="445.50" cy="153.70" r="1.28" stroke-width="1.90"/>
<circle cx="449.00" cy="160.00" r="1.29" stroke-width="1.90"/>
<circle cx="452.50" cy="166.00" r="1.32" stroke-width="1.90"/>
<circle cx="456.00" cy="171.60" r="1.36" stroke-width="1.90"/>
<circle cx="459.50" cy="176.60" r="1.40" stroke-width="1.90"/>
<circle cx="463.00" cy="181.00" r="1.45" stroke-width="1.90"/>
<circle cx="466.50" cy="184.40" r="1.49" stroke-width="1.90"/>
<circle cx="470.00" cy="187.20" r="1.53" stroke-width="1.90"/>
<circle cx="473.50" cy="189.20" r="1.61" stroke-width="1.90"/>
<circle cx="477.00" cy="190.20" r="1.69" stroke-width="1.90"/>
<circle cx="480.50" cy="190.20" r="1.76" stroke-width="1.91"/>
<circle cx="442.00" cy="30.00" r="1.87" fill="#C8329A" stroke="none"/>
<circle cx="445.50" cy="42.00" r="1.86" fill="#C8329A" stroke="none"/>
<circle cx="449.00" cy="55.00" r="1.84" fill="#C8329A" stroke="none"/>
<circle cx="452.50" cy="72.00" r="1.83" fill="#C8329A" stroke="none"/>
<circle cx="456.00" cy="90.75" r="1.81" fill="#C8329A" stroke="none"/>
<circle cx="459.50" cy="111.25" r="1.80" fill="#C8329A" stroke="none"/>
<circle cx="463.00" cy="131.25" r="1.78" fill="#C8329A" stroke="none"/>
<circle cx="466.50" cy="149.50" r="1.70" fill="#C8329A" stroke="none"/>
<circle cx="470.00" cy="165.00" r="1.18" fill="#C8329A" stroke="none"/>
<circle cx="473.50" cy="173.75" r="1.18" fill="#C8329A" stroke="none"/>
<circle cx="477.00" cy="176.75" r="1.18" fill="#C8329A" stroke="none"/>
<circle cx="480.50" cy="176.75" r="1.18" fill="#C8329A" stroke="none"/>
<circle cx="484.00" cy="173.75" r="1.18" fill="#C8329A" stroke="none"/>
<circle cx="487.50" cy="167.50" r="1.18" fill="#C8329A" stroke="none"/>
<circle cx="491.00" cy="158.00" r="1.77" fill="#C8329A" stroke="none"/>
<circle cx="494.50" cy="144.50" r="1.78" fill="#C8329A" stroke="none"/>
<circle cx="498.00" cy="129.25" r="1.80" fill="#C8329A" stroke="none"/>
<circle cx="501.50" cy="112.50" r="1.81" fill="#C8329A" stroke="none"/>
<circle cx="505.00" cy="95.75" r="1.82" fill="#C8329A" stroke="none"/>
<circle cx="508.50" cy="78.75" r="1.83" fill="#C8329A" stroke="none"/>
<circle cx="512.00" cy="60.50" r="1.85" fill="#C8329A" stroke="none"/>
<circle cx="515.50" cy="42.00" r="1.86" fill="#C8329A" stroke="none"/>
<circle cx="519.00" cy="24.00" r="1.87" fill="#C8329A" stroke="none"/>
<circle cx="477.00" cy="190.20" r="1.82" stroke-width="2.03"/>
<circle cx="480.50" cy="190.20" r="1.80" stroke-width="2.01"/>
<circle cx="484.00" cy="189.60" r="1.79" stroke-width="1.98"/>
<circle cx="487.50" cy="188.00" r="1.78" stroke-width="1.96"/>
<circle cx="491.00" cy="185.60" r="1.77" stroke-width="1.94"/>
<circle cx="494.50" cy="182.30" r="1.76" stroke-width="1.91"/>
<circle cx="498.00" cy="178.30" r="1.74" stroke-width="1.90"/>
<circle cx="501.50" cy="173.60" r="1.71" stroke-width="1.90"/>
<circle cx="505.00" cy="168.30" r="1.69" stroke-width="1.90"/>
<circle cx="508.50" cy="163.30" r="1.67" stroke-width="1.90"/>
<circle cx="512.00" cy="158.20" r="1.64" stroke-width="1.90"/>
<circle cx="515.50" cy="153.20" r="1.62" stroke-width="1.90"/>
<circle cx="519.00" cy="148.40" r="1.59" stroke-width="1.90"/>
<circle cx="522.50" cy="144.25" r="1.51" stroke-width="1.90"/>
<circle cx="526.00" cy="140.75" r="1.41" stroke-width="1.90"/>
<circle cx="529.50" cy="138.00" r="1.31" stroke-width="1.90"/>
<circle cx="533.00" cy="136.25" r="1.22" stroke-width="1.90"/>
<circle cx="536.50" cy="135.25" r="1.17" stroke-width="1.90"/>
<circle cx="540.00" cy="135.00" r="1.12" stroke-width="1.90"/>
<circle cx="543.50" cy="135.25" r="1.08" stroke-width="1.90"/>
<circle cx="547.00" cy="136.00" r="1.06" stroke-width="1.90"/>
<circle cx="550.50" cy="137.00" r="1.06" stroke-width="1.90"/>
<circle cx="554.00" cy="138.25" r="1.06" stroke-width="1.90"/>
<circle cx="557.50" cy="139.50" r="1.06" stroke-width="1.90"/>
<circle cx="561.00" cy="140.75" r="1.06" stroke-width="1.90"/>
<circle cx="564.50" cy="141.75" r="1.06" stroke-width="1.90"/>
<circle cx="568.00" cy="142.50" r="1.06" stroke-width="1.90"/>
<circle cx="571.50" cy="143.25" r="1.06" stroke-width="1.90"/>
<circle cx="575.00" cy="143.75" r="1.06" stroke-width="1.90"/>
<circle cx="578.50" cy="144.25" r="1.06" stroke-width="1.90"/>
<circle cx="582.00" cy="144.50" r="1.06" stroke-width="1.90"/>
<circle cx="477.00" cy="190.20" r="1.88" stroke-width="2.15"/>
<circle cx="480.50" cy="190.20" r="1.80" stroke-width="1.99"/>
<circle cx="484.00" cy="190.20" r="1.68" stroke-width="1.90"/>
<circle cx="487.50" cy="190.30" r="1.52" stroke-width="1.90"/>
<circle cx="491.00" cy="191.40" r="1.36" stroke-width="1.90"/>
<circle cx="494.50" cy="193.60" r="1.20" stroke-width="1.90"/>
<circle cx="498.00" cy="196.40" r="1.03" stroke-width="1.90"/>
<circle cx="501.50" cy="199.20" r="1.86" fill="#C8329A" stroke="none"/>
<circle cx="505.00" cy="202.60" r="1.80" fill="#C8329A" stroke="none"/>
<circle cx="508.50" cy="206.00" r="1.74" fill="#C8329A" stroke="none"/>
<circle cx="512.00" cy="210.00" r="1.68" fill="#C8329A" stroke="none"/>
<circle cx="515.50" cy="214.10" r="1.61" fill="#C8329A" stroke="none"/>
<circle cx="519.00" cy="218.40" r="1.55" fill="#C8329A" stroke="none"/>
<circle cx="522.50" cy="222.50" r="1.51" fill="#C8329A" stroke="none"/>
<circle cx="526.00" cy="226.40" r="1.48" fill="#C8329A" stroke="none"/>
<circle cx="529.50" cy="230.10" r="1.44" fill="#C8329A" stroke="none"/>
<circle cx="533.00" cy="233.80" r="1.41" fill="#C8329A" stroke="none"/>
<circle cx="536.50" cy="237.30" r="1.38" fill="#C8329A" stroke="none"/>
<circle cx="540.00" cy="240.60" r="1.35" fill="#C8329A" stroke="none"/>
<circle cx="543.50" cy="243.70" r="1.31" fill="#C8329A" stroke="none"/>
<circle cx="547.00" cy="246.70" r="1.28" fill="#C8329A" stroke="none"/>
<circle cx="550.50" cy="249.30" r="1.25" fill="#C8329A" stroke="none"/>
<circle cx="554.00" cy="251.70" r="1.23" fill="#C8329A" stroke="none"/>
<circle cx="557.50" cy="253.80" r="1.20" fill="#C8329A" stroke="none"/>
<circle cx="561.00" cy="255.60" r="1.17" fill="#C8329A" stroke="none"/>
<circle cx="564.50" cy="257.20" r="1.14" fill="#C8329A" stroke="none"/>
<circle cx="568.00" cy="258.30" r="1.11" fill="#C8329A" stroke="none"/>
<circle cx="571.50" cy="259.10" r="1.09" fill="#C8329A" stroke="none"/>
<circle cx="575.00" cy="259.70" r="1.06" fill="#C8329A" stroke="none"/>
<circle cx="578.50" cy="260.10" r="1.03" fill="#C8329A" stroke="none"/>
<circle cx="582.00" cy="260.20" r="1.00" fill="#C8329A" stroke="none"/>
<circle cx="60.50" cy="334.00" r="1.93" stroke-width="2.27"/>
<circle cx="64.00" cy="335.50" r="1.93" stroke-width="2.27"/>
<circle cx="67.50" cy="338.75" r="1.93" stroke-width="2.27"/>
<circle cx="71.00" cy="344.25" r="1.93" stroke-width="2.27"/>
<circle cx="74.50" cy="351.25" r="1.93" stroke-width="2.27"/>
<circle cx="78.00" cy="359.25" r="1.93" stroke-width="2.27"/>
<circle cx="81.50" cy="368.00" r="1.93" stroke-width="2.27"/>
<circle cx="85.00" cy="376.75" r="1.93" stroke-width="2.27"/>
<circle cx="88.50" cy="385.50" r="1.93" stroke-width="2.27"/>
<circle cx="92.00" cy="394.25" r="1.93" stroke-width="2.27"/>
<circle cx="95.50" cy="403.00" r="1.93" stroke-width="2.27"/>
<circle cx="99.00" cy="411.50" r="1.93" stroke-width="2.27"/>
<circle cx="102.50" cy="419.75" r="1.93" stroke-width="2.27"/>
<circle cx="106.00" cy="427.50" r="1.93" stroke-width="2.27"/>
<circle cx="109.50" cy="434.75" r="1.93" stroke-width="2.27"/>
<circle cx="113.00" cy="442.00" r="1.93" stroke-width="2.27"/>
<circle cx="116.50" cy="448.75" r="1.93" stroke-width="2.27"/>
<circle cx="120.00" cy="455.25" r="1.93" stroke-width="2.27"/>
<circle cx="123.50" cy="461.00" r="1.93" stroke-width="2.27"/>
<circle cx="127.00" cy="466.50" r="1.93" stroke-width="2.27"/>
<circle cx="130.50" cy="471.50" r="1.93" stroke-width="2.27"/>
<circle cx="134.00" cy="476.00" r="1.93" stroke-width="2.27"/>
<circle cx="137.50" cy="480.00" r="1.93" stroke-width="2.27"/>
<circle cx="141.00" cy="483.50" r="1.93" stroke-width="2.27"/>
<circle cx="144.50" cy="486.25" r="1.93" stroke-width="2.27"/>
<circle cx="148.00" cy="488.50" r="1.93" stroke-width="2.27"/>
<circle cx="151.50" cy="490.30" r="1.92" stroke-width="2.25"/>
<circle cx="155.00" cy="491.30" r="1.90" stroke-width="2.20"/>
<circle cx="158.50" cy="492.00" r="1.88" stroke-width="2.15"/>
<circle cx="162.00" cy="492.40" r="1.85" stroke-width="2.10"/>
<circle cx="165.50" cy="492.50" r="1.83" stroke-width="2.05"/>
<circle cx="169.00" cy="492.70" r="1.80" stroke-width="2.01"/>
<circle cx="172.50" cy="493.30" r="1.78" stroke-width="1.96"/>
<circle cx="176.00" cy="494.30" r="1.76" stroke-width="1.91"/>
<circle cx="179.50" cy="495.70" r="1.71" stroke-width="1.90"/>
<circle cx="183.00" cy="497.50" r="1.70" stroke-width="1.90"/>
<circle cx="186.50" cy="499.70" r="1.69" stroke-width="1.90"/>
<circle cx="190.00" cy="502.20" r="1.68" stroke-width="1.90"/>
<circle cx="193.50" cy="504.80" r="1.67" stroke-width="1.90"/>
<circle cx="197.00" cy="507.50" r="1.66" stroke-width="1.90"/>
<circle cx="200.50" cy="510.50" r="1.66" stroke-width="1.90"/>
<circle cx="204.00" cy="513.50" r="1.65" stroke-width="1.90"/>
<circle cx="207.50" cy="516.40" r="1.64" stroke-width="1.90"/>
<circle cx="211.00" cy="519.20" r="1.63" stroke-width="1.90"/>
<circle cx="214.50" cy="522.00" r="1.62" stroke-width="1.90"/>
<circle cx="218.00" cy="524.80" r="1.62" stroke-width="1.90"/>
<circle cx="221.50" cy="527.50" r="1.61" stroke-width="1.90"/>
<circle cx="225.00" cy="530.20" r="1.60" stroke-width="1.90"/>
<circle cx="228.50" cy="532.80" r="1.59" stroke-width="1.90"/>
<circle cx="232.00" cy="535.20" r="1.58" stroke-width="1.90"/>
<circle cx="235.50" cy="537.50" r="1.57" stroke-width="1.90"/>
<circle cx="239.00" cy="539.50" r="1.56" stroke-width="1.90"/>
<circle cx="242.50" cy="541.30" r="1.55" stroke-width="1.90"/>
<circle cx="246.00" cy="543.00" r="1.54" stroke-width="1.90"/>
<circle cx="249.50" cy="544.50" r="1.53" stroke-width="1.90"/>
<circle cx="253.00" cy="545.60" r="1.52" stroke-width="1.90"/>
<circle cx="256.50" cy="546.50" r="1.51" stroke-width="1.90"/>
<circle cx="260.00" cy="547.20" r="1.50" stroke-width="1.90"/>
<circle cx="263.50" cy="547.60" r="1.49" stroke-width="1.90"/>
<circle cx="267.00" cy="547.60" r="1.48" stroke-width="1.90"/>
<circle cx="270.50" cy="547.60" r="1.47" stroke-width="1.90"/>
<circle cx="60.50" cy="334.00" r="1.88" stroke-width="2.15"/>
<circle cx="64.00" cy="337.00" r="1.79" stroke-width="1.98"/>
<circle cx="67.50" cy="343.00" r="1.65" stroke-width="1.90"/>
<circle cx="71.00" cy="353.00" r="1.51" stroke-width="1.90"/>
<circle cx="74.50" cy="365.00" r="1.45" stroke-width="1.90"/>
<circle cx="78.00" cy="378.75" r="1.39" stroke-width="1.90"/>
<circle cx="81.50" cy="393.75" r="1.32" stroke-width="1.90"/>
<circle cx="85.00" cy="409.75" r="1.26" stroke-width="1.90"/>
<circle cx="88.50" cy="426.00" r="1.20" stroke-width="1.90"/>
<circle cx="92.00" cy="442.50" r="1.16" stroke-width="1.90"/>
<circle cx="95.50" cy="459.25" r="1.14" stroke-width="1.90"/>
<circle cx="99.00" cy="476.00" r="1.12" stroke-width="1.90"/>
<circle cx="102.50" cy="493.30" r="1.09" stroke-width="1.90"/>
<circle cx="106.00" cy="510.70" r="1.07" stroke-width="1.90"/>
<circle cx="109.50" cy="528.10" r="1.05" stroke-width="1.90"/>
<circle cx="113.00" cy="545.40" r="1.03" stroke-width="1.90"/>
<circle cx="116.50" cy="562.60" r="1.00" stroke-width="1.90"/>
<circle cx="120.00" cy="579.80" r="1.93" fill="#C8329A" stroke="none"/>
<circle cx="123.50" cy="597.00" r="1.91" fill="#C8329A" stroke="none"/>
<circle cx="127.00" cy="614.20" r="1.89" fill="#C8329A" stroke="none"/>
<circle cx="267.00" cy="547.60" r="1.76" stroke-width="1.91"/>
<circle cx="270.50" cy="547.60" r="1.47" stroke-width="1.90"/>
<circle cx="274.00" cy="545.50" r="1.47" stroke-width="1.90"/>
<circle cx="277.50" cy="543.50" r="1.47" stroke-width="1.90"/>
<circle cx="281.00" cy="541.50" r="1.47" stroke-width="1.90"/>
<circle cx="284.50" cy="539.30" r="1.47" stroke-width="1.90"/>
<circle cx="288.00" cy="536.50" r="1.47" stroke-width="1.90"/>
<circle cx="291.50" cy="533.80" r="1.47" stroke-width="1.90"/>
<circle cx="295.00" cy="531.00" r="1.47" stroke-width="1.90"/>
<circle cx="298.50" cy="527.90" r="1.47" stroke-width="1.90"/>
<circle cx="302.00" cy="524.70" r="1.47" stroke-width="1.90"/>
<circle cx="305.50" cy="521.50" r="1.47" stroke-width="1.90"/>
<circle cx="309.00" cy="518.00" r="1.47" stroke-width="1.90"/>
<circle cx="312.50" cy="514.40" r="1.47" stroke-width="1.90"/>
<circle cx="316.00" cy="510.80" r="1.47" stroke-width="1.90"/>
<circle cx="319.50" cy="507.20" r="1.47" stroke-width="1.90"/>
<circle cx="323.00" cy="503.30" r="1.47" stroke-width="1.90"/>
<circle cx="326.50" cy="499.70" r="1.47" stroke-width="1.90"/>
<circle cx="330.00" cy="496.00" r="1.47" stroke-width="1.90"/>
<circle cx="333.50" cy="492.40" r="1.47" stroke-width="1.90"/>
<circle cx="337.00" cy="489.00" r="1.47" stroke-width="1.90"/>
<circle cx="340.50" cy="485.60" r="1.47" stroke-width="1.90"/>
<circle cx="344.00" cy="482.40" r="1.47" stroke-width="1.90"/>
<circle cx="347.50" cy="479.50" r="1.47" stroke-width="1.90"/>
<circle cx="351.00" cy="476.80" r="1.47" stroke-width="1.90"/>
<circle cx="354.50" cy="474.50" r="1.47" stroke-width="1.90"/>
<circle cx="358.00" cy="472.50" r="1.47" stroke-width="1.90"/>
<circle cx="361.50" cy="470.80" r="1.47" stroke-width="1.90"/>
<circle cx="365.00" cy="469.60" r="1.47" stroke-width="1.90"/>
<circle cx="368.50" cy="469.00" r="1.47" stroke-width="1.90"/>
<circle cx="372.00" cy="468.80" r="1.47" stroke-width="1.90"/>
<circle cx="375.50" cy="468.80" r="1.56" stroke-width="1.90"/>
<circle cx="379.00" cy="463.70" r="1.65" stroke-width="1.90"/>
<circle cx="382.50" cy="458.30" r="1.65" stroke-width="1.90"/>
<circle cx="386.00" cy="452.70" r="1.66" stroke-width="1.90"/>
<circle cx="389.50" cy="446.80" r="1.67" stroke-width="1.90"/>
<circle cx="393.00" cy="440.00" r="1.67" stroke-width="1.90"/>
<circle cx="396.50" cy="433.50" r="1.68" stroke-width="1.90"/>
<circle cx="400.00" cy="426.75" r="1.69" stroke-width="1.90"/>
<circle cx="403.50" cy="419.75" r="1.69" stroke-width="1.90"/>
<circle cx="407.00" cy="412.75" r="1.70" stroke-width="1.90"/>
<circle cx="410.50" cy="405.75" r="1.71" stroke-width="1.90"/>
<circle cx="414.00" cy="398.75" r="1.71" stroke-width="1.90"/>
<circle cx="417.50" cy="391.75" r="1.72" stroke-width="1.90"/>
<circle cx="421.00" cy="385.00" r="1.73" stroke-width="1.90"/>
<circle cx="424.50" cy="378.40" r="1.73" stroke-width="1.90"/>
<circle cx="428.00" cy="372.00" r="1.74" stroke-width="1.90"/>
<circle cx="431.50" cy="366.20" r="1.75" stroke-width="1.90"/>
<circle cx="435.00" cy="361.00" r="1.75" stroke-width="1.90"/>
<circle cx="438.50" cy="356.30" r="1.76" stroke-width="1.91"/>
<circle cx="442.00" cy="352.00" r="1.77" stroke-width="1.93"/>
<circle cx="445.50" cy="348.20" r="1.78" stroke-width="1.97"/>
<circle cx="449.00" cy="344.80" r="1.80" stroke-width="2.00"/>
<circle cx="452.50" cy="342.20" r="1.82" stroke-width="2.03"/>
<circle cx="456.00" cy="340.00" r="1.83" stroke-width="2.07"/>
<circle cx="459.50" cy="338.00" r="1.85" stroke-width="2.10"/>
<circle cx="463.00" cy="336.50" r="1.87" stroke-width="2.13"/>
<circle cx="466.50" cy="335.50" r="1.88" stroke-width="2.17"/>
<circle cx="470.00" cy="334.80" r="1.90" stroke-width="2.20"/>
<circle cx="473.50" cy="334.50" r="1.92" stroke-width="2.23"/>
<circle cx="477.00" cy="334.30" r="1.93" stroke-width="2.27"/>
<circle cx="480.50" cy="334.30" r="1.93" stroke-width="2.27"/>
<circle cx="484.00" cy="335.00" r="1.93" stroke-width="2.27"/>
<circle cx="487.50" cy="336.00" r="1.93" stroke-width="2.27"/>
<circle cx="491.00" cy="337.70" r="1.93" stroke-width="2.27"/>
<circle cx="494.50" cy="340.00" r="1.93" stroke-width="2.27"/>
<circle cx="498.00" cy="343.00" r="1.93" stroke-width="2.27"/>
<circle cx="501.50" cy="346.00" r="1.93" stroke-width="2.27"/>
<circle cx="505.00" cy="349.30" r="1.93" stroke-width="2.27"/>
<circle cx="508.50" cy="353.00" r="1.93" stroke-width="2.27"/>
<circle cx="512.00" cy="356.80" r="1.93" stroke-width="2.27"/>
<circle cx="515.50" cy="360.50" r="1.93" stroke-width="2.27"/>
<circle cx="519.00" cy="364.20" r="1.93" stroke-width="2.27"/>
<circle cx="522.50" cy="368.00" r="1.93" stroke-width="2.27"/>
<circle cx="526.00" cy="371.50" r="1.93" stroke-width="2.27"/>
<circle cx="529.50" cy="375.00" r="1.93" stroke-width="2.27"/>
<circle cx="533.00" cy="378.20" r="1.93" stroke-width="2.27"/>
<circle cx="536.50" cy="381.20" r="1.93" stroke-width="2.27"/>
<circle cx="540.00" cy="384.20" r="1.93" stroke-width="2.27"/>
<circle cx="543.50" cy="386.80" r="1.93" stroke-width="2.27"/>
<circle cx="547.00" cy="389.30" r="1.93" stroke-width="2.27"/>
<circle cx="550.50" cy="391.50" r="1.93" stroke-width="2.27"/>
<circle cx="554.00" cy="393.50" r="1.93" stroke-width="2.27"/>
<circle cx="557.50" cy="395.20" r="1.93" stroke-width="2.27"/>
<circle cx="561.00" cy="396.80" r="1.93" stroke-width="2.27"/>
<circle cx="564.50" cy="398.20" r="1.93" stroke-width="2.27"/>
<circle cx="568.00" cy="399.20" r="1.93" stroke-width="2.27"/>
<circle cx="571.50" cy="400.00" r="1.93" stroke-width="2.27"/>
<circle cx="575.00" cy="400.60" r="1.93" stroke-width="2.27"/>
<circle cx="578.50" cy="400.90" r="1.93" stroke-width="2.27"/>
<circle cx="582.00" cy="401.00" r="1.93" stroke-width="2.27"/>
<circle cx="267.00" cy="547.60" r="1.76" stroke-width="1.91"/>
<circle cx="270.50" cy="547.60" r="1.47" stroke-width="1.90"/>
<circle cx="274.00" cy="549.30" r="1.47" stroke-width="1.90"/>
<circle cx="277.50" cy="550.80" r="1.47" stroke-width="1.90"/>
<circle cx="281.00" cy="552.30" r="1.47" stroke-width="1.90"/>
<circle cx="284.50" cy="553.70" r="1.47" stroke-width="1.90"/>
<circle cx="288.00" cy="555.20" r="1.47" stroke-width="1.90"/>
<circle cx="291.50" cy="556.60" r="1.47" stroke-width="1.90"/>
<circle cx="295.00" cy="558.00" r="1.47" stroke-width="1.90"/>
<circle cx="298.50" cy="559.30" r="1.47" stroke-width="1.90"/>
<circle cx="302.00" cy="560.50" r="1.47" stroke-width="1.90"/>
<circle cx="305.50" cy="561.70" r="1.47" stroke-width="1.90"/>
<circle cx="309.00" cy="562.70" r="1.47" stroke-width="1.90"/>
<circle cx="312.50" cy="563.60" r="1.47" stroke-width="1.90"/>
<circle cx="316.00" cy="564.50" r="1.47" stroke-width="1.90"/>
<circle cx="319.50" cy="565.50" r="1.47" stroke-width="1.90"/>
<circle cx="323.00" cy="566.40" r="1.47" stroke-width="1.90"/>
<circle cx="326.50" cy="567.20" r="1.47" stroke-width="1.90"/>
<circle cx="330.00" cy="568.00" r="1.47" stroke-width="1.90"/>
<circle cx="333.50" cy="568.70" r="1.47" stroke-width="1.90"/>
<circle cx="337.00" cy="569.30" r="1.47" stroke-width="1.90"/>
<circle cx="340.50" cy="569.90" r="1.47" stroke-width="1.90"/>
<circle cx="344.00" cy="570.40" r="1.47" stroke-width="1.90"/>
<circle cx="347.50" cy="570.80" r="1.47" stroke-width="1.90"/>
<circle cx="351.00" cy="571.20" r="1.47" stroke-width="1.90"/>
<circle cx="354.50" cy="571.60" r="1.47" stroke-width="1.90"/>
<circle cx="358.00" cy="571.90" r="1.47" stroke-width="1.90"/>
<circle cx="361.50" cy="572.10" r="1.47" stroke-width="1.90"/>
<circle cx="365.00" cy="572.30" r="1.47" stroke-width="1.90"/>
<circle cx="368.50" cy="572.40" r="1.47" stroke-width="1.90"/>
<circle cx="372.00" cy="572.50" r="1.47" stroke-width="1.90"/>
<circle cx="375.50" cy="572.50" r="1.47" stroke-width="1.90"/>
<circle cx="379.00" cy="576.50" r="1.44" stroke-width="1.90"/>
<circle cx="382.50" cy="578.50" r="1.41" stroke-width="1.90"/>
<circle cx="386.00" cy="578.80" r="1.38" stroke-width="1.90"/>
<circle cx="389.50" cy="577.30" r="1.36" stroke-width="1.90"/>
<circle cx="393.00" cy="574.30" r="1.39" stroke-width="1.90"/>
<circle cx="396.50" cy="569.70" r="1.43" stroke-width="1.90"/>
<circle cx="400.00" cy="563.80" r="1.47" stroke-width="1.90"/>
<circle cx="403.50" cy="556.80" r="1.47" stroke-width="1.90"/>
<circle cx="407.00" cy="548.80" r="1.47" stroke-width="1.90"/>
<circle cx="410.50" cy="540.50" r="1.47" stroke-width="1.90"/>
<circle cx="414.00" cy="529.50" r="1.47" stroke-width="1.90"/>
<circle cx="417.50" cy="518.75" r="1.47" stroke-width="1.90"/>
<circle cx="421.00" cy="507.25" r="1.47" stroke-width="1.90"/>
<circle cx="424.50" cy="495.00" r="1.47" stroke-width="1.90"/>
<circle cx="428.00" cy="482.50" r="1.47" stroke-width="1.90"/>
<circle cx="431.50" cy="469.50" r="1.47" stroke-width="1.90"/>
<circle cx="435.00" cy="456.25" r="1.47" stroke-width="1.90"/>
<circle cx="438.50" cy="442.50" r="1.47" stroke-width="1.90"/>
<circle cx="442.00" cy="429.25" r="1.47" stroke-width="1.90"/>
<circle cx="445.50" cy="415.50" r="1.47" stroke-width="1.90"/>
<circle cx="449.00" cy="402.25" r="1.47" stroke-width="1.90"/>
<circle cx="452.50" cy="389.25" r="1.47" stroke-width="1.90"/>
<circle cx="456.00" cy="376.75" r="1.47" stroke-width="1.90"/>
<circle cx="459.50" cy="364.75" r="1.47" stroke-width="1.90"/>
<circle cx="463.00" cy="355.00" r="1.52" stroke-width="1.90"/>
<circle cx="466.50" cy="346.75" r="1.58" stroke-width="1.90"/>
<circle cx="470.00" cy="340.50" r="1.64" stroke-width="1.90"/>
<circle cx="473.50" cy="336.00" r="1.70" stroke-width="1.90"/>
<circle cx="477.00" cy="334.50" r="1.76" stroke-width="1.91"/>
<circle cx="480.50" cy="334.50" r="1.76" stroke-width="1.91"/>
<circle cx="417.50" cy="613.00" r="1.07" stroke-width="1.90"/>
<circle cx="421.00" cy="597.00" r="1.08" stroke-width="1.90"/>
<circle cx="424.50" cy="580.75" r="1.09" stroke-width="1.90"/>
<circle cx="428.00" cy="564.50" r="1.10" stroke-width="1.90"/>
<circle cx="431.50" cy="548.00" r="1.11" stroke-width="1.90"/>
<circle cx="435.00" cy="530.50" r="1.12" stroke-width="1.90"/>
<circle cx="438.50" cy="512.50" r="1.14" stroke-width="1.90"/>
<circle cx="442.00" cy="494.50" r="1.15" stroke-width="1.90"/>
<circle cx="445.50" cy="475.60" r="1.16" stroke-width="1.90"/>
<circle cx="449.00" cy="456.40" r="1.17" stroke-width="1.90"/>
<circle cx="452.50" cy="437.00" r="1.22" stroke-width="1.90"/>
<circle cx="456.00" cy="418.00" r="1.28" stroke-width="1.90"/>
<circle cx="459.50" cy="398.50" r="1.34" stroke-width="1.90"/>
<circle cx="463.00" cy="380.50" r="1.40" stroke-width="1.90"/>
<circle cx="466.50" cy="363.50" r="1.47" stroke-width="1.90"/>
<circle cx="470.00" cy="348.50" r="1.53" stroke-width="1.90"/>
<circle cx="473.50" cy="338.00" r="1.69" stroke-width="1.90"/>
<circle cx="477.00" cy="334.50" r="1.80" stroke-width="1.99"/>
<circle cx="480.50" cy="334.50" r="1.88" stroke-width="2.15"/>
<circle cx="477.00" cy="334.50" r="1.88" stroke-width="2.15"/>
<circle cx="480.50" cy="334.50" r="1.80" stroke-width="1.99"/>
<circle cx="484.00" cy="338.00" r="1.69" stroke-width="1.90"/>
<circle cx="487.50" cy="345.00" r="1.53" stroke-width="1.90"/>
<circle cx="491.00" cy="356.75" r="1.49" stroke-width="1.90"/>
<circle cx="494.50" cy="371.00" r="1.46" stroke-width="1.90"/>
<circle cx="498.00" cy="387.25" r="1.43" stroke-width="1.90"/>
<circle cx="501.50" cy="404.25" r="1.41" stroke-width="1.90"/>
<circle cx="505.00" cy="421.25" r="1.40" stroke-width="1.90"/>
<circle cx="508.50" cy="439.75" r="1.39" stroke-width="1.90"/>
<circle cx="512.00" cy="458.00" r="1.38" stroke-width="1.90"/>
<circle cx="515.50" cy="476.00" r="1.37" stroke-width="1.90"/>
<circle cx="519.00" cy="494.25" r="1.36" stroke-width="1.90"/>
<circle cx="522.50" cy="512.50" r="1.35" stroke-width="1.90"/>
<circle cx="526.00" cy="530.29" r="1.34" stroke-width="1.90"/>
<circle cx="529.50" cy="547.79" r="1.33" stroke-width="1.90"/>
<circle cx="533.00" cy="565.00" r="1.32" stroke-width="1.90"/>
<circle cx="536.50" cy="581.75" r="1.31" stroke-width="1.90"/>
<circle cx="540.00" cy="598.00" r="1.30" stroke-width="1.90"/>
<circle cx="543.50" cy="616.00" r="1.29" stroke-width="1.90"/>
</g>
</g>
<g stroke="#000" stroke-width="1" fill="none" shape-rendering="crispEdges">
<rect x="60.5" y="34.5" width="525.0" height="571.0"/>
<line x1="60.5" y1="576.5" x2="63.0" y2="576.5"/>
<line x1="60.5" y1="548.5" x2="66.0" y2="548.5"/>
<line x1="60.5" y1="519.5" x2="63.0" y2="519.5"/>
<line x1="60.5" y1="491.5" x2="63.0" y2="491.5"/>
<line x1="60.5" y1="462.5" x2="63.0" y2="462.5"/>
<line x1="60.5" y1="434.5" x2="66.0" y2="434.5"/>
<line x1="60.5" y1="405.5" x2="63.0" y2="405.5"/>
<line x1="60.5" y1="377.5" x2="63.0" y2="377.5"/>
<line x1="60.5" y1="348.5" x2="63.0" y2="348.5"/>
<line x1="60.5" y1="320.5" x2="66.0" y2="320.5"/>
<line x1="60.5" y1="291.5" x2="63.0" y2="291.5"/>
<line x1="60.5" y1="262.5" x2="63.0" y2="262.5"/>
<line x1="60.5" y1="234.5" x2="63.0" y2="234.5"/>
<line x1="60.5" y1="205.5" x2="66.0" y2="205.5"/>
<line x1="60.5" y1="177.5" x2="63.0" y2="177.5"/>
<line x1="60.5" y1="148.5" x2="63.0" y2="148.5"/>
<line x1="60.5" y1="120.5" x2="63.0" y2="120.5"/>
<line x1="60.5" y1="91.5" x2="66.0" y2="91.5"/>
<line x1="60.5" y1="63.5" x2="63.0" y2="63.5"/>
<line x1="585.5" y1="57.5" x2="583.0" y2="57.5"/>
<line x1="585.5" y1="80.5" x2="583.0" y2="80.5"/>
<line x1="585.5" y1="103.5" x2="583.0" y2="103.5"/>
<line x1="585.5" y1="125.5" x2="583.0" y2="125.5"/>
<line x1="585.5" y1="148.5" x2="580.0" y2="148.5"/>
<line x1="585.5" y1="171.5" x2="583.0" y2="171.5"/>
<line x1="585.5" y1="194.5" x2="583.0" y2="194.5"/>
<line x1="585.5" y1="217.5" x2="583.0" y2="217.5"/>
<line x1="585.5" y1="240.5" x2="583.0" y2="240.5"/>
<line x1="585.5" y1="262.5" x2="580.0" y2="262.5"/>
<line x1="585.5" y1="285.5" x2="583.0" y2="285.5"/>
<line x1="585.5" y1="308.5" x2="583.0" y2="308.5"/>
<line x1="585.5" y1="331.5" x2="583.0" y2="331.5"/>
<line x1="585.5" y1="354.5" x2="583.0" y2="354.5"/>
<line x1="585.5" y1="377.5" x2="580.0" y2="377.5"/>
<line x1="585.5" y1="399.5" x2="583.0" y2="399.5"/>
<line x1="585.5" y1="422.5" x2="583.0" y2="422.5"/>
<line x1="585.5" y1="445.5" x2="583.0" y2="445.5"/>
<line x1="585.5" y1="468.5" x2="583.0" y2="468.5"/>
<line x1="585.5" y1="491.5" x2="580.0" y2="491.5"/>
<line x1="585.5" y1="514.5" x2="583.0" y2="514.5"/>
<line x1="585.5" y1="536.5" x2="583.0" y2="536.5"/>
<line x1="585.5" y1="559.5" x2="583.0" y2="559.5"/>
<line x1="585.5" y1="582.5" x2="583.0" y2="582.5"/>
<line x1="81.5" y1="34.5" x2="81.5" y2="37.0"/>
<line x1="102.5" y1="34.5" x2="102.5" y2="37.0"/>
<line x1="123.5" y1="34.5" x2="123.5" y2="37.0"/>
<line x1="144.5" y1="34.5" x2="144.5" y2="37.0"/>
<line x1="165.5" y1="34.5" x2="165.5" y2="40.0"/>
<line x1="186.5" y1="34.5" x2="186.5" y2="37.0"/>
<line x1="207.5" y1="34.5" x2="207.5" y2="37.0"/>
<line x1="228.5" y1="34.5" x2="228.5" y2="37.0"/>
<line x1="249.5" y1="34.5" x2="249.5" y2="37.0"/>
<line x1="270.5" y1="34.5" x2="270.5" y2="40.0"/>
<line x1="291.5" y1="34.5" x2="291.5" y2="37.0"/>
<line x1="312.5" y1="34.5" x2="312.5" y2="37.0"/>
<line x1="333.5" y1="34.5" x2="333.5" y2="37.0"/>
<line x1="354.5" y1="34.5" x2="354.5" y2="37.0"/>
<line x1="375.5" y1="34.5" x2="375.5" y2="40.0"/>
<line x1="396.5" y1="34.5" x2="396.5" y2="37.0"/>
<line x1="417.5" y1="34.5" x2="417.5" y2="37.0"/>
<line x1="438.5" y1="34.5" x2="438.5" y2="37.0"/>
<line x1="459.5" y1="34.5" x2="459.5" y2="37.0"/>
<line x1="480.5" y1="34.5" x2="480.5" y2="40.0"/>
<line x1="501.5" y1="34.5" x2="501.5" y2="37.0"/>
<line x1="522.5" y1="34.5" x2="522.5" y2="37.0"/>
<line x1="543.5" y1="34.5" x2="543.5" y2="37.0"/>
<line x1="564.5" y1="34.5" x2="564.5" y2="37.0"/>
<line x1="162.5" y1="605.5" x2="162.5" y2="601.0"/>
<line x1="267.5" y1="605.5" x2="267.5" y2="601.0"/>
<line x1="372.5" y1="605.5" x2="372.5" y2="601.0"/>
<line x1="477.5" y1="605.5" x2="477.5" y2="601.0"/>
<line x1="582.5" y1="605.5" x2="582.5" y2="601.0"/>
</g>
<g>
<rect x="455.5" y="47.5" width="119" height="27" fill="#fff" stroke="#000" stroke-width="1" shape-rendering="crispEdges"/>
<line x1="462" y1="61.5" x2="494" y2="61.5" stroke="#C8329A" stroke-width="2.1"/>
<circle cx="478.4" cy="61.5" r="4.85" fill="none" stroke="#C8329A" stroke-width="2"/>
<text x="501" y="61.4" style="font-family:'Liberation Mono',monospace;font-size:10.5px;letter-spacing:-0.3px;stroke:none;fill:#222">NoSpin_Si_p</text>
</g>
<text x="242.7" y="23.5" font-size="20.5" font-weight="bold" textLength="159.6" lengthAdjust="spacing">PBandStructure</text>
<g font-size="19"><text x="59.7" y="625.3" text-anchor="middle">G</text><text x="161.5" y="625.3" text-anchor="middle">X</text><text x="266.7" y="625.3" text-anchor="middle">W</text><text x="372.0" y="625.3" text-anchor="middle">K</text><text x="477.0" y="625.3" text-anchor="middle">G</text><text x="581.3" y="625.3" text-anchor="middle">L</text></g>
<g font-size="19.5"><text x="53.5" y="97.7" text-anchor="end">4</text><text x="53.5" y="211.7" text-anchor="end">2</text><text x="53.5" y="326.7" text-anchor="end">0</text><text x="53.5" y="440.7" text-anchor="end">-2</text><text x="53.5" y="554.7" text-anchor="end">-4</text></g>
<text font-size="19" transform="translate(22.3,369.1) rotate(-90)" textLength="99.6" lengthAdjust="spacing">Energy (eV)</text>
</svg>
</body></html>
